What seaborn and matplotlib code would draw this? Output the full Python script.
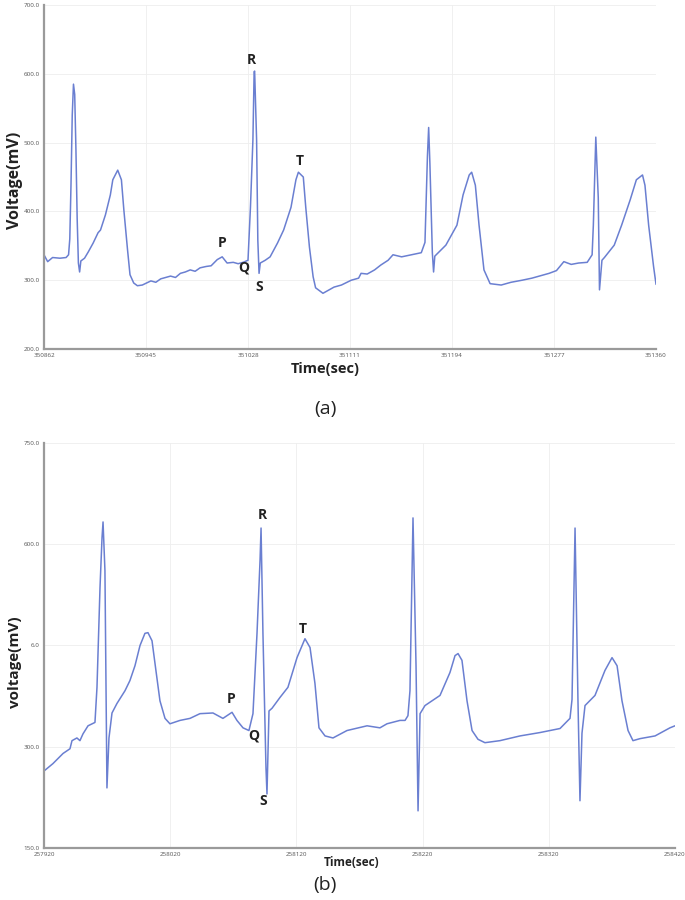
import numpy as np
import pandas as pd
import matplotlib
matplotlib.use("Agg")
import matplotlib.pyplot as plt
import seaborn as sns

# (a) trace
time_a = [350862, 350865, 350869, 350875, 350880, 350882, 350883, 350884, 350885, 350886,
          350887, 350888, 350889, 350890, 350891, 350892, 350895, 350898, 350902, 350906,
          350908, 350912, 350916, 350918, 350922, 350925, 350927, 350930, 350932, 350935,
          350938, 350942, 350949, 350953, 350957, 350961, 350965, 350969, 350973, 350977,
          350981, 350985, 350989, 350994, 350998, 351003, 351007, 351011, 351016, 351020,
          351024, 351028, 351030, 351032, 351033, 351033.4, 351035, 351036, 351037, 351038,
          351042, 351046, 351052, 351057, 351063, 351067, 351069, 351073, 351075, 351078,
          351081, 351083, 351089, 351094, 351098, 351104, 351112, 351118, 351120, 351125,
          351131, 351136, 351142, 351146, 351153, 351161, 351169, 351172, 351174, 351175,
          351176, 351178, 351179, 351180, 351189, 351198, 351203, 351208, 351210, 351213,
          351216, 351220, 351225, 351234, 351242, 351251, 351259, 351267, 351273, 351279,
          351285, 351291, 351297, 351304, 351308, 351309, 351311, 351313, 351314, 351316,
          351318, 351326, 351332, 351339, 351344, 351349, 351351, 351354, 351358, 351360]
volt_a = [337, 327, 333, 332, 333, 337, 360, 440, 540, 585,
          570, 490, 390, 325, 312, 328, 332, 341, 354, 369,
          373, 395, 424, 446, 460, 446, 402, 344, 308, 296,
          292, 293, 299, 297, 302, 304, 306, 304, 310, 312,
          315, 313, 318, 320, 321, 330, 334, 325, 326, 324,
          326, 329, 406, 504, 603, 604, 504, 358, 310, 325,
          329, 334, 354, 373, 406, 446, 457, 450, 406, 348,
          305, 289, 281, 286, 290, 293, 300, 303, 310, 309,
          315, 322, 329, 337, 334, 337, 340, 355, 480, 522,
          470, 340, 312, 335, 351, 380, 424, 453, 457, 438,
          380, 315, 295, 293, 297, 300, 303, 307, 310, 314,
          327, 323, 325, 326, 337, 380, 508, 420, 286, 329,
          333, 351, 380, 417, 446, 453, 438, 380, 320, 294]

# (b) trace
time_b = [257920.0, 257927.1, 257935.1, 257940.6, 257942.2, 257946.1, 257948.5, 257950.9, 257954.9, 257960.4,
          257962.0, 257964.4, 257966.0, 257966.8, 257968.3, 257969.9, 257971.5, 257973.9, 257977.8, 257984.2,
          257988.1, 257992.1, 257996.1, 258000.0, 258002.4, 258005.6, 258008.7, 258011.9, 258015.9, 258019.8,
          258027.8, 258035.7, 258043.6, 258053.9, 258061.8, 258069.0, 258072.9, 258077.7, 258082.4, 258085.6,
          258088.8, 258091.2, 258092.0, 258093.5, 258095.9, 258096.7, 258098.3, 258100.7, 258107.0, 258113.3,
          258120.5, 258126.8, 258130.8, 258134.7, 258137.9, 258142.7, 258149.0, 258160.1, 258176.0, 258186.2,
          258191.8, 258202.1, 258206.1, 258208.4, 258210.0, 258212.4, 258214.8, 258216.4, 258218.0, 258221.9,
          258233.8, 258241.7, 258245.7, 258248.1, 258251.2, 258255.2, 258259.2, 258263.9, 258269.4, 258281.3,
          258297.2, 258313.0, 258328.9, 258335.2, 258336.8, 258338.4, 258340.8, 258343.1, 258344.7, 258346.3,
          258348.7, 258356.6, 258364.5, 258370.1, 258374.1, 258378.0, 258382.8, 258386.7, 258392.3, 258404.2,
          258416.0, 258420.0]
volt_b = [264, 275, 290, 297, 309, 313, 309, 319, 331, 336,
          388, 536, 610, 633, 561, 239, 313, 350, 364, 383,
          398, 420, 450, 468, 469, 457, 413, 368, 342, 334,
          339, 342, 349, 350, 342, 351, 339, 328, 324, 349,
          468, 576, 624, 468, 269, 230, 353, 357, 373, 388,
          432, 460, 447, 394, 328, 316, 313, 324, 331, 328,
          334, 339, 339, 346, 383, 639, 420, 205, 349, 361,
          376, 410, 435, 438, 428, 368, 324, 311, 306, 309,
          316, 321, 327, 339, 342, 370, 624, 370, 220, 320,
          361, 376, 413, 432, 420, 368, 324, 309, 312, 316,
          328, 331]

xticks_a = [350862, 350945, 351028, 351111, 351194, 351277, 351360]
yticks_a = [200, 300, 400, 500, 600, 700]
ytick_labels_a = ["200.0", "300.0", "400.0", "500.0", "600.0", "700.0"]

xticks_b = [257920, 258020, 258120, 258220, 258320, 258420]
yticks_b = [150, 300, 450, 600, 750]
ytick_labels_b = ["150.0", "300.0", "6.0", "600.0", "750.0"]

# wave labels (time, voltage)
waves = ["P", "Q", "R", "S", "T"]
wave_t_a = [351007, 351024.5, 351031, 351037.5, 351070]
wave_v_a = [354, 319, 620, 290, 473]
wave_t_b = [258068, 258086, 258093, 258093.5, 258125]
wave_v_b = [371, 316, 643, 220, 475]

sns.set_theme(style="white")
plt.rcParams["font.family"] = ["Open Sans", "DejaVu Sans"]

line_color = "#6a7fd1"

fig = plt.figure(figsize=(6.85, 9), dpi=100)
ax1 = fig.add_axes([0.0642, 0.6122, 0.8935, 0.3822])
ax2 = fig.add_axes([0.0642, 0.0578, 0.9212, 0.45])

df_a = pd.DataFrame({"t": time_a, "v": volt_a})
df_b = pd.DataFrame({"t": time_b, "v": volt_b})

sns.lineplot(x="t", y="v", data=df_a, ax=ax1, color=line_color, lw=1.1, estimator=None, sort=False)
sns.lineplot(x="t", y="v", data=df_b, ax=ax2, color=line_color, lw=1.1, estimator=None, sort=False)


def style(ax, xt, yt, ylabels, xlim, ylim):
    ax.set_xlim(*xlim)
    ax.set_ylim(*ylim)
    ax.set_xticks(xt)
    ax.set_xticklabels([str(x) for x in xt])
    ax.set_yticks(yt)
    ax.set_yticklabels(ylabels)
    ax.tick_params(axis="both", labelsize=4.5, length=2, width=0.6, colors="#555555", pad=1)
    ax.grid(True, color="#eeeeee", lw=0.6)
    for s in ["top", "right"]:
        ax.spines[s].set_visible(False)
    for s in ["left", "bottom"]:
        ax.spines[s].set_color("#9a9a9a")
        ax.spines[s].set_linewidth(1.6)
    ax.set_xlabel("")
    ax.set_ylabel("")


style(ax1, xticks_a, yticks_a, ytick_labels_a, (350862, 351360), (200, 700))
style(ax2, xticks_b, yticks_b, ytick_labels_b, (257920, 258420), (150, 750))

for w, t, v in zip(waves, wave_t_a, wave_v_a):
    ax1.text(t, v, w, ha="center", va="center", fontsize=10, fontweight="bold", color="#222222")
for w, t, v in zip(waves, wave_t_b, wave_v_b):
    ax2.text(t, v, w, ha="center", va="center", fontsize=10, fontweight="bold", color="#222222")

fig.text(15 / 685, 1 - 180 / 900, "Voltage(mV)", rotation=90, ha="center", va="center",
         fontsize=11.5, fontweight="bold", color="#222222")
fig.text(325 / 685, 1 - 369 / 900, "Time(sec)", ha="center", va="center",
         fontsize=10.5, fontweight="bold", color="#222222")
fig.text(325 / 685, 1 - 409 / 900, "(a)", ha="center", va="center", fontsize=14, color="#222222")

fig.text(15 / 685, 1 - 662 / 900, "voltage(mV)", rotation=90, ha="center", va="center",
         fontsize=11, fontweight="bold", color="#222222")
fig.text(352 / 685, 1 - 862 / 900, "Time(sec)", ha="center", va="center",
         fontsize=8.5, fontweight="bold", color="#222222")
fig.text(325 / 685, 1 - 885 / 900, "(b)", ha="center", va="center", fontsize=14, color="#222222")

fig.savefig("out.png", dpi=100, facecolor="white")
